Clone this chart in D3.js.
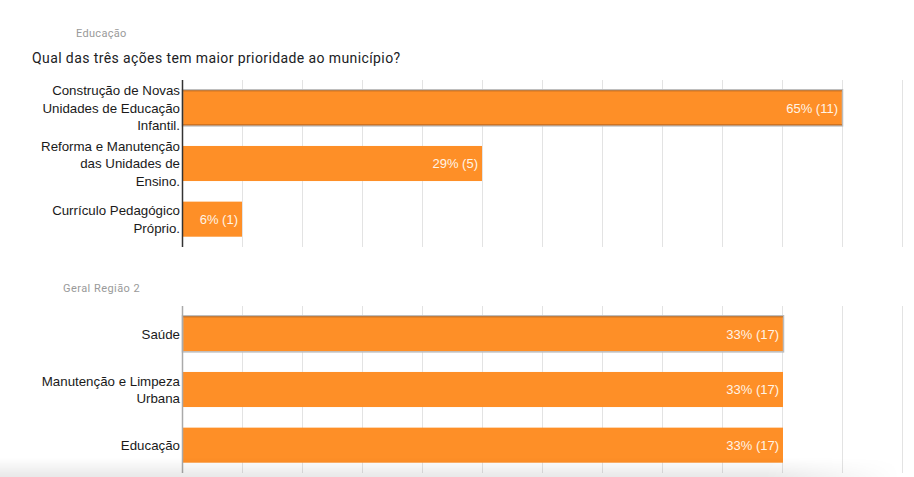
<!DOCTYPE html>
<html>
<head>
<meta charset="utf-8">
<script src="https://cdn.jsdelivr.net/npm/d3@7"></script>
<style>
  body { margin: 0; background: #fff; }
  svg { display: block; }
</style>
</head>
<body>
<div id="chart"></div>
<script>
// ---
// Data
// ---
const eduCategories = [
  ['Construção de Novas', 'Unidades de Educação', 'Infantil.'],
  ['Reforma e Manutenção', 'das Unidades de', 'Ensino.'],
  ['Currículo Pedagógico', 'Próprio.']
]
const eduCounts = [11, 5, 1]
const eduPercents = [65, 29, 6]

const regCategories = [
  ['Saúde'],
  ['Manutenção e Limpeza', 'Urbana'],
  ['Educação']
]
const regCounts = [17, 17, 17]
const regPercents = [33, 33, 33]

const W = 914
const H = 477
const orange = '#fe8f27'

const svg = d3.select('#chart').append('svg')
  .attr('width', W)
  .attr('height', H)

const defs = svg.append('defs')
const shade = defs.append('linearGradient')
  .attr('id', 'shade').attr('x1', 0).attr('y1', 0).attr('x2', 0).attr('y2', 1)
shade.append('stop').attr('offset', '0%').attr('stop-color', '#000').attr('stop-opacity', 0)
shade.append('stop').attr('offset', '100%').attr('stop-color', '#000').attr('stop-opacity', 0.09)
const fadeR = defs.append('linearGradient')
  .attr('id', 'fadeR').attr('x1', 0).attr('y1', 0).attr('x2', 1).attr('y2', 0)
fadeR.append('stop').attr('offset', '0%').attr('stop-color', '#fff')
fadeR.append('stop').attr('offset', '85%').attr('stop-color', '#fff')
fadeR.append('stop').attr('offset', '100%').attr('stop-color', '#000')
defs.append('mask').attr('id', 'shadeMask')
  .append('rect').attr('x', 0).attr('y', 0).attr('width', 900).attr('height', H)
  .attr('fill', 'url(#fadeR)')

// headings
svg.append('text')
  .attr('x', 76).attr('y', 37)
  .attr('font-family', 'Roboto, sans-serif').attr('font-size', 11)
  .attr('letter-spacing', 0.3)
  .attr('fill', '#9a9a9a')
  .text('Educação')

svg.append('text')
  .attr('x', 32).attr('y', 63)
  .attr('font-family', 'Roboto, sans-serif').attr('font-size', 14)
  .attr('letter-spacing', 0.4)
  .attr('fill', '#202124')
  .text('Qual das três ações tem maior prioridade ao município?')

svg.append('text')
  .attr('x', 63).attr('y', 292)
  .attr('font-family', 'Roboto, sans-serif').attr('font-size', 11)
  .attr('letter-spacing', 0.45)
  .attr('fill', '#9a9a9a')
  .text('Geral Região 2')

// ---
// Bar chart
// ---
function barChart (cfg) {
  const x = d3.scaleLinear()
    .domain([0, cfg.max])
    .range([182, 902])

  const y = d3.scaleBand()
    .domain(d3.range(cfg.counts.length))
    .range([cfg.top, cfg.bottom])
    .paddingInner(0.37)
    .paddingOuter(0.185)

  const g = svg.append('g')

  // grid
  const ticks = d3.range(13).map(i => i * cfg.max / 12)
  const xAxis = d3.axisTop(x)
    .tickValues(ticks.slice(1))
    .tickSize(-(cfg.bottom - cfg.top))
    .tickFormat('')

  g.append('g')
    .attr('transform', `translate(0, ${cfg.top})`)
    .call(xAxis)
    .call(s => s.select('.domain').remove())
    .call(s => s.selectAll('.tick line').attr('stroke', '#e3e3e3'))

  // bars
  g.selectAll('rect.bar')
      .data(cfg.counts)
    .enter()
      .append('rect')
      .attr('class', 'bar')
      .attr('x', x(0))
      .attr('y', (d, i) => y(i))
      .attr('width', d => x(d) - x(0))
      .attr('height', y.bandwidth())
      .attr('fill', orange)

  // focused first bar outline
  const f = cfg.counts[0]
  g.append('rect')
    .attr('x', x(0) + 0.5)
    .attr('y', y(0) - 0.5)
    .attr('width', x(f) - x(0))
    .attr('height', y.bandwidth() + 1)
    .attr('fill', 'none')
    .attr('stroke', '#bcbcbc')
    .attr('stroke-width', 1.5)
  g.append('line')
    .attr('x1', x(0)).attr('x2', x(f))
    .attr('y1', y(0) + 0.5).attr('y2', y(0) + 0.5)
    .attr('stroke', '#b8651c')
  if (cfg.focusBottom) {
    g.append('line')
      .attr('x1', x(0)).attr('x2', x(f))
      .attr('y1', y(0) + y.bandwidth() - 0.5).attr('y2', y(0) + y.bandwidth() - 0.5)
      .attr('stroke', '#b8651c')
  }

  // value labels
  g.selectAll('text.val')
      .data(cfg.counts)
    .enter()
      .append('text')
      .attr('class', 'val')
      .attr('x', d => x(d) - 4)
      .attr('y', (d, i) => y(i) + y.bandwidth() / 2)
      .attr('dy', '0.36em')
      .attr('text-anchor', 'end')
      .attr('font-family', 'Liberation Sans, Arial, sans-serif')
      .attr('font-size', 13)
      .attr('fill', '#fff4e6')
      .text((d, i) => `${cfg.percents[i]}% (${d})`)

  // category labels
  const lh = 17.5
  const labels = g.selectAll('text.cat')
      .data(cfg.categories)
    .enter()
      .append('text')
      .attr('class', 'cat')
      .attr('text-anchor', 'end')
      .attr('font-family', 'Liberation Sans, Arial, sans-serif')
      .attr('font-size', 13.3)
      .attr('fill', '#1a1a1a')

  labels.each(function (lines, i) {
    const cy = y(i) + y.bandwidth() / 2 - (lines.length - 1) * lh / 2
    d3.select(this).selectAll('tspan')
        .data(lines)
      .enter()
        .append('tspan')
        .attr('x', 180)
        .attr('y', (l, j) => cy + j * lh)
        .attr('dy', '0.36em')
        .text(l => l)
  })

  // vertical axis line
  g.append('line')
    .attr('x1', 182.5).attr('x2', 182.5)
    .attr('y1', cfg.top).attr('y2', cfg.bottom)
    .attr('stroke', cfg.axisColor)
    .attr('stroke-width', 1.5)
}

barChart({
  categories: eduCategories,
  counts: eduCounts,
  percents: eduPercents,
  max: 12,
  top: 80,
  bottom: 247,
  axisColor: '#333',
  focusBottom: true
})

barChart({
  categories: regCategories,
  counts: regCounts,
  percents: regPercents,
  max: 17 * 720 / 601,
  top: 306,
  bottom: 473,
  axisColor: '#aaa',
  focusBottom: false
})

// bottom scroll shadow
svg.append('rect')
  .attr('x', 0).attr('y', 458)
  .attr('width', 900).attr('height', H - 458)
  .attr('fill', 'url(#shade)')
  .attr('mask', 'url(#shadeMask)')
</script>
</body>
</html>
